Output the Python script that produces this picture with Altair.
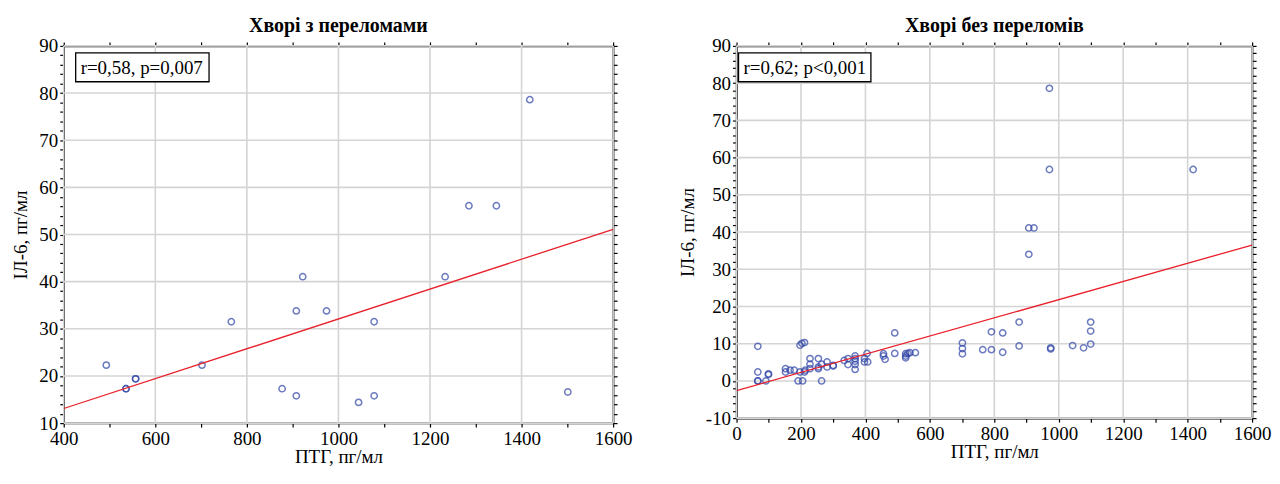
import altair as alt
import pandas as pd

# ---------------- data ----------------
left_title = "Хворі з переломами"
right_title = "Хворі без переломів"
x_title = "ПТГ, пг/мл"
y_title = "ІЛ-6, пг/мл"
left_note = ["r=0,58, p=0,007"]
right_note = ["r=0,62; p<0,001"]

left_x = [493, 536, 536, 557, 557, 702, 766, 877, 908, 908, 922, 974, 1044,
          1078, 1078, 1233, 1285, 1345, 1418, 1501]
left_y = [22.3, 17.3, 17.3, 19.4, 19.4, 22.3, 31.5, 17.3, 33.8, 15.8, 41.05,
          33.8, 14.4, 31.5, 15.8, 41.05, 56.1, 56.1, 78.6, 16.6]

right_x = [66, 66, 66, 66, 91, 99, 99, 152, 152, 166, 179, 191, 197, 203, 211,
           197, 205, 211, 213, 228, 228, 228, 254, 254, 254, 264, 264, 281, 281,
           300, 300, 334, 346, 346, 368, 368, 368, 368, 368, 397, 397, 405, 407,
           456, 456, 461, 491, 491, 525, 525, 525, 532, 538, 555, 701, 701, 701,
           764, 791, 791, 826, 826, 877, 877, 907, 923, 907, 971, 971, 975, 975,
           1043, 1077, 1099, 1099, 1099, 1417]
right_y = [9.3, 2.4, 0, 0, 0, 1.7, 1.9, 3.3, 2.4, 2.9, 2.9, 0, 9.6, 10.1, 10.3,
           2.4, 0, 2.4, 2.9, 6.0, 4.5, 3.3, 6.0, 3.75, 3.3, 0, 4.5, 5.1, 3.75,
           4.2, 4.0, 5.5, 6.0, 4.4, 6.7, 6.0, 5.3, 4.4, 3.1, 6.0, 5.1, 7.4, 5.1,
           7.3, 6.7, 5.8, 12.9, 7.4, 7.3, 6.7, 6.2, 7.4, 7.6, 7.6, 10.2, 8.7, 7.3,
           8.4, 13.2, 8.4, 12.9, 7.7, 15.8, 9.4, 41.1, 41.1, 34.0, 78.6, 56.8,
           8.9, 8.6, 9.5, 8.9, 15.8, 13.4, 9.9, 56.8]

# fitted lines (end points)
left_line_x = [400, 1600]
left_line_y = [13.1, 51.1]
right_line_x = [0, 1600]
right_line_y = [-2.6, 36.5]

# axis ticks
left_x_major = [400, 600, 800, 1000, 1200, 1400, 1600]
left_x_minor = list(range(400, 1601, 100))
left_y_major = [10, 20, 30, 40, 50, 60, 70, 80, 90]
left_y_minor = list(range(10, 91, 2))
right_x_major = [0, 200, 400, 600, 800, 1000, 1200, 1400, 1600]
right_x_minor = list(range(0, 1601, 100))
right_y_major = [-10, 0, 10, 20, 30, 40, 50, 60, 70, 80, 90]
right_y_minor = list(range(-10, 91, 2))

FONT = "Liberation Serif"
PT_COLOR = "#2f44a6"
LINE_COLOR = "#e8202a"
GRID_COLOR = "#d4d4d4"


def panel(title, px, py, lx, ly, xdom, ydom, xmaj, xmin, ymaj, ymin, note,
          w, h, box_x, box_w):
    pts = pd.DataFrame({"x": px, "y": py})
    ln = pd.DataFrame({"x": lx, "y": ly})
    gx = pd.DataFrame({"x": xmaj})
    gy = pd.DataFrame({"y": ymaj})
    nt = pd.DataFrame({"t": note})

    xs = alt.Scale(domain=xdom, nice=False, zero=False)
    ys = alt.Scale(domain=ydom, nice=False, zero=False)

    xlab = "datum.value % 200 === 0 ? format(datum.value, 'd') : ''"
    ylab = "datum.value % 10 === 0 ? replace(format(datum.value, 'd'), '\u2212', '-') : ''"

    grid_v = alt.Chart(gx).mark_rule(color=GRID_COLOR, strokeWidth=1.6).encode(
        x=alt.X("x:Q", scale=xs, axis=None))
    grid_h = alt.Chart(gy).mark_rule(color=GRID_COLOR, strokeWidth=1.6).encode(
        y=alt.Y("y:Q", scale=ys, axis=None))

    points = alt.Chart(pts).mark_point(
        shape="circle", filled=False, color=PT_COLOR, size=40, strokeWidth=1.5
    ).encode(
        x=alt.X("x:Q", scale=xs, title=x_title,
                axis=alt.Axis(values=xmin, labelExpr=xlab, labelOverlap=False,
                              labelFlush=False, labelAlign="center",
                              labelPadding=2, grid=False, orient="bottom",
                              titlePadding=0)),
        y=alt.Y("y:Q", scale=ys, title=y_title,
                axis=alt.Axis(values=ymin, labelExpr=ylab, labelOverlap=False,
                              labelFlush=False,
                              grid=False, orient="left", titlePadding=8)),
    )

    line = alt.Chart(ln).mark_line(color=LINE_COLOR, strokeWidth=1.3, clip=True).encode(
        x=alt.X("x:Q", scale=xs,
                axis=alt.Axis(values=xmin, labels=False, title=None, grid=False,
                              orient="top")),
        y=alt.Y("y:Q", scale=ys,
                axis=alt.Axis(values=ymin, labels=False, title=None, grid=False,
                              orient="right")),
    )

    box = alt.Chart(nt).mark_rect(fill="white", stroke="black", strokeWidth=1.3).encode(
        x=alt.value(box_x), x2=alt.value(box_x + box_w),
        y=alt.value(7), y2=alt.value(36))
    txt = alt.Chart(nt).mark_text(
        align="left", baseline="middle", font=FONT, fontSize=19, color="black"
    ).encode(x=alt.value(box_x + 5), y=alt.value(22), text="t:N")

    return alt.layer(grid_v, grid_h, points, line, box, txt).resolve_axis(
        x="independent", y="independent"
    ).properties(
        width=w, height=h,
        title=alt.TitleParams(title, font=FONT, fontSize=20, fontWeight="bold",
                              anchor="middle", offset=1, color="black"),
    )


left = panel(left_title, left_x, left_y, left_line_x, left_line_y, [400, 1600],
             [10, 90], left_x_major, left_x_minor, left_y_major, left_y_minor,
             left_note, 552, 379, 12, 134)
right = panel(right_title, right_x, right_y, right_line_x, right_line_y, [0, 1600],
              [-10, 90], right_x_major, right_x_minor, right_y_major, right_y_minor,
              right_note, 518, 374, 2, 133)

chart = alt.hconcat(left, right, spacing=44).properties(
    background="white",
    padding={"left": 3, "right": 0, "top": 6, "bottom": 0},
).configure_view(
    stroke="black", strokeWidth=1.5
).configure_axis(
    labelFont=FONT, labelFontSize=19, labelColor="black",
    titleFont=FONT, titleFontSize=19, titleFontWeight="normal", titleColor="black",
    tickColor="black", tickSize=4, tickWidth=1.2, domainColor="black",
    domainWidth=1.5, labelPadding=2,
)

chart.save("out.html", embed_options={"renderer": "svg", "actions": False})
